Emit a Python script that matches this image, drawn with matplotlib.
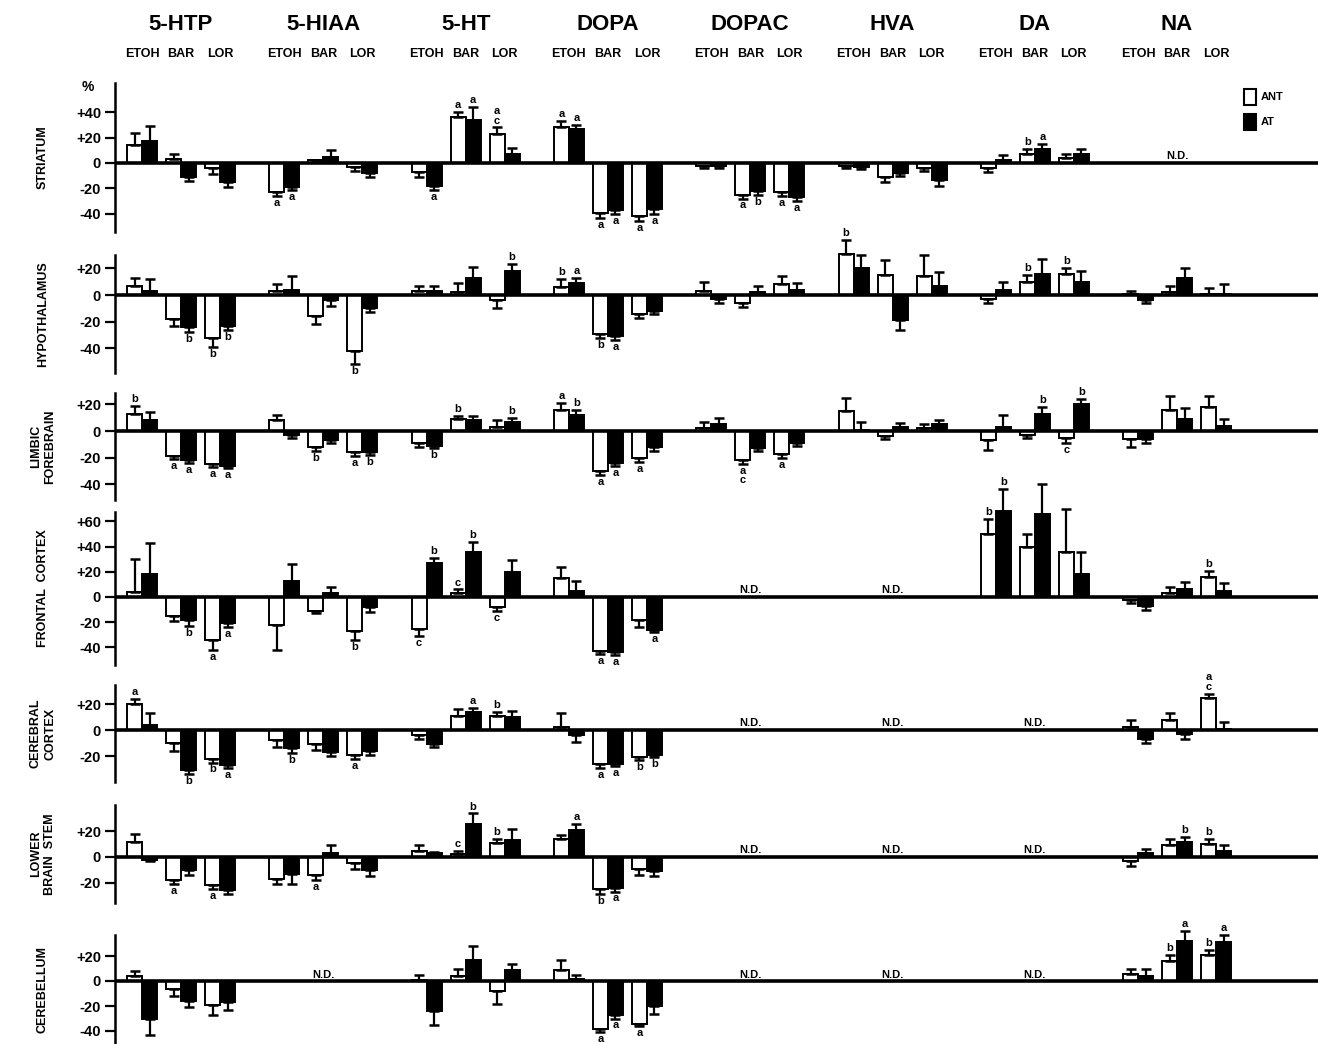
import numpy as np
import matplotlib
matplotlib.use('Agg')
import matplotlib.pyplot as plt
from matplotlib import transforms
from matplotlib.patches import Rectangle

plt.rcParams['font.family'] = ['Liberation Sans', 'DejaVu Sans']
plt.rcParams['font.weight'] = 'bold'

N = np.nan
COMPOUNDS = ['5-HTP', '5-HIAA', '5-HT', 'DOPA', 'DOPAC', 'HVA', 'DA', 'NA']
TREATMENTS = ['ETOH', 'BAR', 'LOR']
REGIONS = ['STRIATUM', 'HYPOTHALAMUS', 'LIMBIC\nFOREBRAIN', 'FRONTAL  CORTEX',
           'CEREBRAL\nCORTEX', 'LOWER\nBRAIN  STEM', 'CEREBELLUM']
SERIES = ['ANT', 'AT']

# ---- values (% change), order: compound x (ETOH, BAR, LOR) ----
STR_ANT = [14, 3, -4, -23, 2, -3, -7, 36, 23, 28, -39, -42, -2, -25, -23, -2, -11, -4, -4, 7, 4, N, N, N]
STR_ANT_E = [10, 4, 5, 3, 0, 3, 4, 4, 5, 5, 4, 4, 2, 3, 3, 2, 4, 2, 3, 4, 3, N, N, N]
STR_AT = [17, -11, -15, -19, 5, -8, -18, 34, 7, 27, -37, -36, -2, -22, -27, -3, -8, -13, 2, 11, 7, N, N, N]
STR_AT_E = [12, 3, 4, 2, 5, 3, 3, 10, 5, 3, 3, 4, 2, 3, 3, 2, 2, 5, 4, 4, 4, N, N, N]
STR_ANT_L = ['', '', '', 'a', '', '', '', 'a', 'a\nc', 'a', 'a', 'a', '', 'a', 'a', '', '', '', '', 'b', '', '', '', '']
STR_AT_L = ['', '', '', 'a', '', '', 'a', 'a', '', 'a', 'a', 'a', '', 'b', 'a', '', '', '', '', 'a', '', '', '', '']

HYP_ANT = [7, -18, -32, 3, -16, -42, 3, 2, -4, 6, -29, -14, 3, -6, 8, 31, 15, 14, -3, 10, 16, 1, 2, 1]
HYP_ANT_E = [6, 5, 7, 5, 6, 10, 4, 7, 6, 6, 3, 3, 7, 3, 6, 10, 11, 16, 3, 5, 4, 2, 5, 4]
HYP_AT = [3, -24, -23, 4, -4, -10, 3, 13, 18, 9, -31, -12, -3, 2, 4, 20, -19, 7, 4, 16, 10, -4, 13, 1]
HYP_AT_E = [9, 4, 3, 10, 4, 3, 4, 8, 5, 4, 3, 2, 3, 5, 5, 10, 7, 10, 6, 11, 8, 2, 7, 7]
HYP_ANT_L = ['', '', 'b', '', '', 'b', '', '', '', 'b', 'b', '', '', '', '', 'b', '', '', '', 'b', 'b', '', '', '']
HYP_AT_L = ['', 'b', 'b', '', '', '', '', '', 'b', 'a', 'a', '', '', '', '', '', '', '', '', '', '', '', '', '']

LIM_ANT = [13, -19, -25, 8, -12, -16, -9, 9, 3, 16, -30, -20, 2, -22, -17, 15, -4, 2, -7, -3, -5, -6, 16, 18]
LIM_ANT_E = [6, 2, 2, 4, 3, 3, 3, 2, 5, 5, 3, 3, 5, 3, 3, 10, 2, 3, 7, 2, 4, 6, 10, 8]
LIM_AT = [8, -22, -26, -3, -7, -16, -11, 8, 7, 12, -24, -12, 5, -13, -9, 1, 3, 5, 3, 13, 20, -6, 9, 4]
LIM_AT_E = [6, 2, 2, 2, 2, 2, 2, 3, 3, 4, 2, 3, 5, 2, 2, 6, 3, 3, 9, 5, 4, 3, 8, 5]
LIM_ANT_L = ['b', 'a', 'a', '', 'b', 'a', '', 'b', '', 'a', 'a', 'a', '', 'a\nc', 'a', '', '', '', '', '', 'c', '', '', '']
LIM_AT_L = ['', 'a', 'a', '', '', 'b', 'b', '', 'b', 'b', 'a', '', '', '', '', '', '', '', '', 'b', 'b', '', '', '']

FRO_ANT = [4, -15, -34, -22, -11, -27, -25, 3, -8, 15, -43, -18, N, N, N, N, N, N, 50, 40, 36, -2, 3, 16]
FRO_ANT_E = [26, 4, 8, 20, 2, 7, 6, 3, 3, 9, 2, 6, N, N, N, N, N, N, 12, 10, 34, 3, 5, 5]
FRO_AT = [18, -18, -21, 13, 3, -8, 27, 36, 20, 5, -44, -26, N, N, N, N, N, N, 68, 66, 18, -7, 6, 5]
FRO_AT_E = [25, 5, 3, 13, 5, 4, 4, 8, 9, 8, 2, 2, N, N, N, N, N, N, 18, 24, 18, 3, 6, 6]
FRO_ANT_L = ['', '', 'a', '', '', 'b', 'c', 'c', 'c', '', 'a', '', '', '', '', '', '', '', 'b', '', '', '', '', 'b']
FRO_AT_L = ['', 'b', 'a', '', '', '', 'b', 'b', '', '', 'a', 'a', '', '', '', '', '', '', 'b', '', '', '', '', '']

CER_ANT = [20, -10, -22, -8, -11, -19, -4, 11, 11, 2, -26, -21, N, N, N, N, N, N, N, N, N, 2, 8, 25]
CER_ANT_E = [4, 6, 3, 5, 4, 3, 3, 5, 3, 11, 3, 2, N, N, N, N, N, N, N, N, N, 6, 5, 3]
CER_AT = [4, -31, -27, -14, -17, -16, -11, 14, 10, -4, -26, -19, N, N, N, N, N, N, N, N, N, -7, -3, 1]
CER_AT_E = [9, 3, 2, 4, 3, 3, 2, 3, 5, 5, 2, 2, N, N, N, N, N, N, N, N, N, 3, 4, 5]
CER_ANT_L = ['a', '', 'b', '', '', 'a', '', '', 'b', '', 'a', 'b', '', '', '', '', '', '', '', '', '', '', '', 'a\nc']
CER_AT_L = ['', 'b', 'a', 'b', '', '', '', 'a', '', '', 'a', 'b', '', '', '', '', '', '', '', '', '', '', '', '']

LBS_ANT = [12, -18, -22, -17, -14, -5, 5, 2, 11, 14, -25, -9, N, N, N, N, N, N, N, N, N, -3, 9, 10]
LBS_ANT_E = [6, 3, 3, 4, 4, 4, 4, 3, 3, 3, 4, 5, N, N, N, N, N, N, N, N, N, 4, 5, 4]
LBS_AT = [-2, -10, -26, -13, 3, -10, 3, 26, 13, 21, -24, -11, N, N, N, N, N, N, N, N, N, 3, 12, 5]
LBS_AT_E = [1, 4, 3, 8, 6, 5, 1, 8, 9, 5, 3, 4, N, N, N, N, N, N, N, N, N, 3, 4, 4]
LBS_ANT_L = ['', 'a', 'a', '', 'a', '', '', 'c', 'b', '', 'b', '', '', '', '', '', '', '', '', '', '', '', '', 'b']
LBS_AT_L = ['', '', '', '', '', '', '', 'b', '', 'a', 'a', '', '', '', '', '', '', '', '', '', '', '', 'b', '']

CBL_ANT = [4, -6, -19, N, N, N, 1, 4, -8, 9, -38, -34, N, N, N, N, N, N, N, N, N, 6, 16, 21]
CBL_ANT_E = [4, 6, 8, N, N, N, 4, 6, 10, 8, 3, 2, N, N, N, N, N, N, N, N, N, 4, 5, 4]
CBL_AT = [-30, -16, -17, N, N, N, -24, 17, 9, 2, -27, -20, N, N, N, N, N, N, N, N, N, 4, 32, 31]
CBL_AT_E = [13, 5, 6, N, N, N, 11, 11, 5, 3, 3, 6, N, N, N, N, N, N, N, N, N, 6, 8, 6]
CBL_ANT_L = ['', '', '', '', '', '', '', '', '', '', 'a', 'a', '', '', '', '', '', '', '', '', '', '', 'b', 'b']
CBL_AT_L = ['', '', '', '', '', '', '', '', '', '', 'a', '', '', '', '', '', '', '', '', '', '', '', 'a', 'a']

PANEL_DATA = [
    (STR_ANT, STR_ANT_E, STR_AT, STR_AT_E, STR_ANT_L, STR_AT_L),
    (HYP_ANT, HYP_ANT_E, HYP_AT, HYP_AT_E, HYP_ANT_L, HYP_AT_L),
    (LIM_ANT, LIM_ANT_E, LIM_AT, LIM_AT_E, LIM_ANT_L, LIM_AT_L),
    (FRO_ANT, FRO_ANT_E, FRO_AT, FRO_AT_E, FRO_ANT_L, FRO_AT_L),
    (CER_ANT, CER_ANT_E, CER_AT, CER_AT_E, CER_ANT_L, CER_AT_L),
    (LBS_ANT, LBS_ANT_E, LBS_AT, LBS_AT_E, LBS_ANT_L, LBS_AT_L),
    (CBL_ANT, CBL_ANT_E, CBL_AT, CBL_AT_E, CBL_ANT_L, CBL_AT_L),
]
YTICKS = [[40, 20, 0, -20, -40], [20, 0, -20, -40], [20, 0, -20, -40],
          [60, 40, 20, 0, -20, -40], [20, 0, -20], [20, 0, -20], [20, 0, -20, -40]]

# ---- layout (pixels in a 1318 x 1044 figure) ----
W, H = 1318, 1044
AX_LEFT_PX = 115
ZERO_PX = [163, 295, 431, 597, 730, 857, 981]
PPU = [1.27, 1.33, 1.33, 1.26, 1.30, 1.28, 1.25]
TOP_PX = [83, 255, 393, 512, 685, 805, 935]
BOT_PX = [232, 373, 500, 665, 782, 903, 1044]
PAIR_PX = 39.0
GROUP_SP = 142.3 / PAIR_PX
BAR_W = 15.0 / PAIR_PX
X_LEFT = -(181 - AX_LEFT_PX) / PAIR_PX
X_RIGHT = (W - 181) / PAIR_PX
LABEL_X = (43 - AX_LEFT_PX) / (W - AX_LEFT_PX)

fig = plt.figure(figsize=(W / 100, H / 100), dpi=100)

def tick_label(v):
    if v > 0:
        return '+%d' % v
    if v < 0:
        return '-%d' % (-v)
    return '0'

axes = []
for p in range(7):
    zero, ppu, top, bot = ZERO_PX[p], PPU[p], TOP_PX[p], BOT_PX[p]
    ax = fig.add_axes([AX_LEFT_PX / W, 1 - bot / H, (W - AX_LEFT_PX) / W, (bot - top) / H])
    ax.set_xlim(X_LEFT, X_RIGHT)
    ax.set_ylim(-(bot - zero) / ppu, (zero - top) / ppu)
    ax.patch.set_alpha(0)
    for s in ['top', 'right', 'bottom']:
        ax.spines[s].set_visible(False)
    ax.spines['left'].set_linewidth(1.8)
    ax.set_xticks([])
    ax.set_yticks(YTICKS[p])
    ax.set_yticklabels([tick_label(v) for v in YTICKS[p]], fontsize=10.5, fontweight='bold')
    ax.tick_params(axis='y', direction='out', length=7, width=1.6, pad=3)
    ax.axhline(0, color='black', lw=2.6, zorder=3)
    ax.text(LABEL_X, 0.5, REGIONS[p], transform=ax.transAxes, rotation=90, ha='center',
            va='center', fontsize=9, fontweight='bold', linespacing=1.3)

    ant, ant_e, at, at_e, ant_l, at_l = PANEL_DATA[p]
    for s_idx, (vals, errs, labs) in enumerate([(ant, ant_e, ant_l), (at, at_e, at_l)]):
        xs, vs, es, ls = [], [], [], []
        for i, v in enumerate(vals):
            if np.isnan(v):
                continue
            g, t = divmod(i, 3)
            xs.append(g * GROUP_SP + (t - 1) + (s_idx - 0.5) * BAR_W)
            vs.append(v)
            es.append(errs[i])
            ls.append(labs[i])
        xs = np.array(xs); vs = np.array(vs, float); es = np.array(es, float)
        face = 'white' if s_idx == 0 else 'black'
        ax.bar(xs, vs, width=BAR_W, color=face, edgecolor='black', linewidth=1.4,
               zorder=2, clip_on=False)
        lo = np.where(vs < 0, es, 0)
        hi = np.where(vs >= 0, es, 0)
        ax.errorbar(xs, vs, yerr=[lo, hi], fmt='none', ecolor='black', elinewidth=1.6,
                    capsize=3.3, capthick=1.8, zorder=2, clip_on=False)
        for x, v, e, lab in zip(xs, vs, es, ls):
            if not lab:
                continue
            if v >= 0:
                ax.text(x, v + e + 1.5, lab, ha='center', va='bottom', fontsize=8,
                        fontweight='bold', linespacing=0.9, clip_on=False)
            else:
                ax.text(x, v - e - 1.5, lab, ha='center', va='top', fontsize=8,
                        fontweight='bold', linespacing=0.9, clip_on=False)

    # N.D. markers where a compound was not determined
    for g in range(len(COMPOUNDS)):
        if all(np.isnan(ant[g * 3 + t]) for t in range(3)):
            ax.text(g * GROUP_SP, 1.2, 'N.D.', ha='center', va='bottom',
                    fontsize=8, fontweight='bold')
    axes.append(ax)

# ---- column headers ----
ax0 = axes[0]
tr = transforms.blended_transform_factory(ax0.transData, fig.transFigure)
for g, name in enumerate(COMPOUNDS):
    ax0.text(g * GROUP_SP, 1 - 25 / H, name, transform=tr, ha='center', va='center',
             fontsize=16, fontweight='bold')
    for t, tname in enumerate(TREATMENTS):
        ax0.text(g * GROUP_SP + (t - 1), 1 - 54 / H, tname, transform=tr, ha='center',
                 va='center', fontsize=9, fontweight='bold')

fig.text(88 / W, 1 - 87 / H, '%', ha='center', va='center', fontsize=10, fontweight='bold')

# ---- legend ----
for k, (name, face) in enumerate(zip(SERIES, ['white', 'black'])):
    yc = 97 + 25 * k
    fig.add_artist(Rectangle((1244 / W, 1 - (yc + 8) / H), 12 / W, 16 / H,
                             transform=fig.transFigure, facecolor=face,
                             edgecolor='black', linewidth=1.5))
    fig.text(1261 / W, 1 - yc / H, name, ha='left', va='center', fontsize=8,
             fontweight='bold')

fig.savefig('out.png', dpi=100, facecolor='white')
